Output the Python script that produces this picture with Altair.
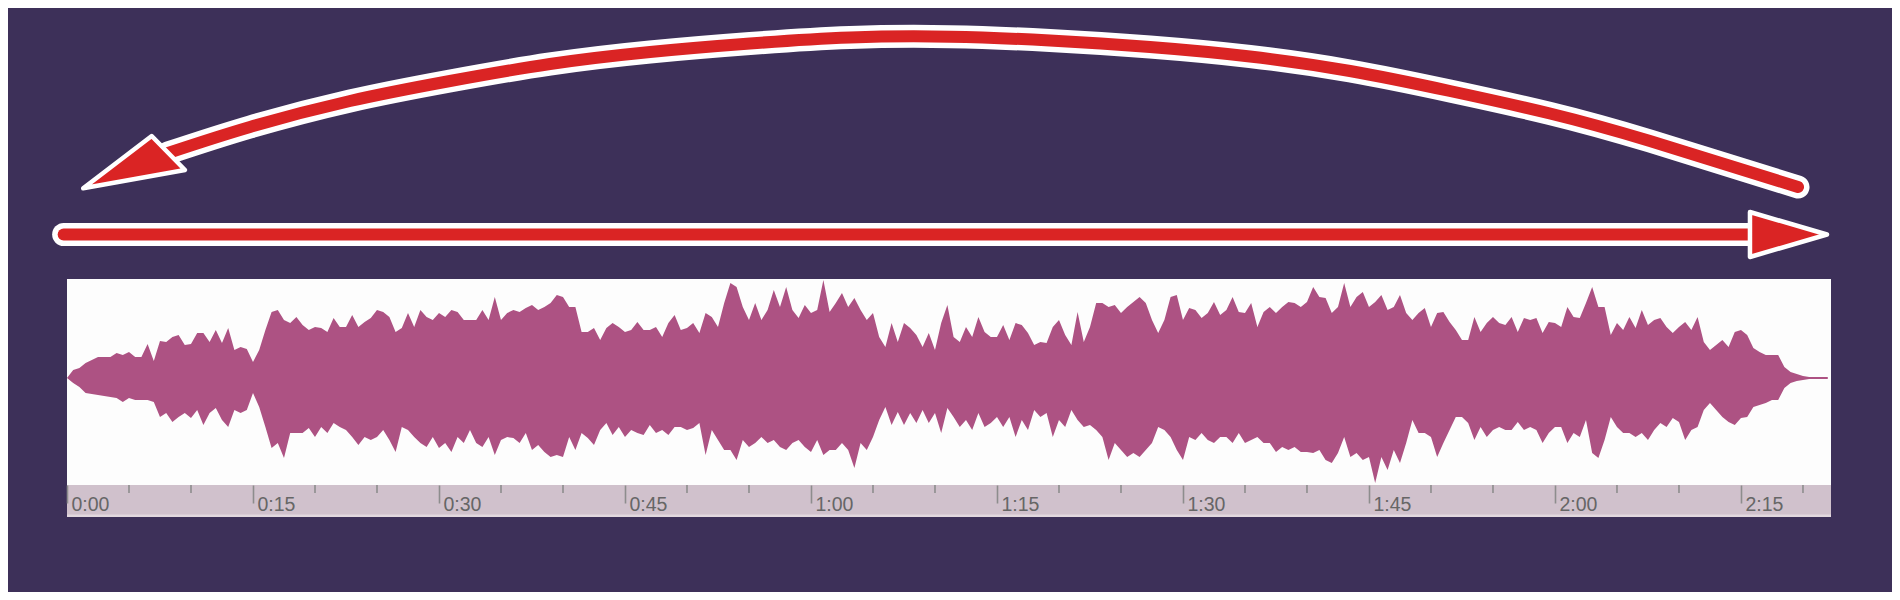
import altair as alt
import pandas as pd

# ---------------- data ----------------
# waveform envelope, sampled every 0.5 s (amplitude in % of full scale)
time_s = [i * 0.5 for i in range(285)]

upper = [
    0, 8, 10, 15, 18, 21, 21, 21, 25, 23, 26, 21, 21, 34, 17, 37, 36, 41, 43, 33,
    34, 45, 45, 36, 48, 35, 50, 28, 31, 29, 16, 28, 48, 66, 68, 58, 55, 61, 53, 48,
    51, 50, 46, 60, 51, 51, 63, 51, 56, 60, 68, 66, 61, 46, 50, 65, 51, 68, 61, 58,
    65, 61, 68, 66, 58, 58, 58, 68, 58, 81, 58, 65, 68, 66, 70, 73, 68, 71, 75, 83,
    81, 71, 71, 46, 46, 50, 38, 50, 55, 51, 46, 48, 56, 48, 48, 51, 41, 55, 63, 48,
    50, 55, 45, 65, 61, 51, 75, 95, 91, 71, 58, 75, 58, 68, 88, 71, 91, 68, 60, 73,
    65, 68, 98, 66, 75, 85, 71, 80, 68, 58, 65, 41, 31, 55, 36, 55, 50, 43, 31, 45,
    28, 55, 73, 41, 36, 51, 41, 61, 46, 41, 41, 53, 38, 55, 53, 45, 33, 36, 35, 51,
    58, 43, 33, 66, 36, 51, 75, 75, 71, 73, 65, 71, 76, 81, 75, 58, 45, 58, 81, 83,
    58, 70, 68, 60, 65, 76, 63, 68, 81, 66, 65, 75, 51, 66, 71, 65, 71, 76, 75, 71,
    76, 91, 81, 80, 65, 71, 95, 71, 81, 86, 71, 76, 83, 68, 71, 83, 65, 58, 65, 70,
    51, 65, 66, 56, 48, 38, 38, 61, 46, 55, 61, 55, 53, 61, 46, 60, 58, 60, 45, 56,
    55, 51, 71, 61, 60, 75, 91, 71, 71, 43, 55, 48, 61, 50, 68, 53, 58, 60, 51, 45,
    51, 56, 48, 61, 36, 28, 33, 38, 31, 46, 48, 43, 30, 26, 23, 23, 23, 11, 6, 4,
    2, 1, 1, 1, 1,
]

lower = [
    0, -5, -9, -15, -16, -17, -18, -19, -20, -24, -20, -22, -22, -22, -24, -39, -35, -44, -39, -35,
    -40, -32, -47, -35, -30, -42, -49, -32, -35, -32, -15, -29, -49, -70, -65, -80, -55, -55, -55, -50,
    -59, -49, -55, -45, -49, -52, -59, -67, -59, -62, -59, -52, -62, -74, -49, -52, -59, -65, -69, -59,
    -70, -65, -74, -59, -65, -52, -65, -69, -59, -77, -62, -59, -60, -65, -55, -72, -67, -74, -79, -77,
    -79, -59, -72, -55, -60, -67, -52, -45, -57, -49, -59, -52, -55, -57, -47, -55, -52, -57, -49, -49,
    -52, -50, -45, -77, -52, -62, -72, -72, -82, -62, -69, -65, -59, -65, -62, -69, -72, -65, -62, -69,
    -74, -62, -77, -72, -72, -65, -72, -90, -65, -72, -59, -42, -29, -47, -34, -47, -35, -45, -32, -45,
    -35, -55, -30, -39, -49, -42, -52, -35, -49, -45, -39, -49, -39, -59, -42, -52, -32, -39, -35, -59,
    -42, -49, -32, -42, -49, -47, -52, -59, -82, -65, -72, -79, -75, -79, -72, -65, -49, -52, -59, -72,
    -82, -59, -62, -55, -62, -65, -59, -59, -65, -55, -65, -62, -59, -65, -65, -74, -69, -72, -69, -74,
    -74, -75, -72, -82, -85, -75, -59, -79, -75, -82, -79, -105, -79, -92, -72, -85, -65, -42, -55, -55,
    -59, -79, -65, -52, -39, -39, -45, -62, -49, -59, -52, -49, -52, -52, -44, -52, -49, -52, -65, -55,
    -49, -49, -65, -55, -59, -42, -75, -80, -62, -39, -49, -55, -55, -59, -55, -62, -52, -45, -49, -40,
    -44, -62, -52, -49, -32, -25, -32, -39, -44, -47, -40, -39, -29, -27, -25, -22, -22, -10, -5, -3,
    -2, -1, -1, -1, -1,
]

# time axis
tick_values = [0, 15, 30, 45, 60, 75, 90, 105, 120, 135]
tick_labels = ["0:00", "0:15", "0:30", "0:45", "1:00", "1:15", "1:30", "1:45", "2:00", "2:15"]
minor_ticks = [5, 10, 20, 25, 35, 40, 50, 55, 65, 70, 80, 85, 95, 100, 110, 115, 125, 130, 140]

# arrows (annotation paths, in the same time / amplitude units)
straight_t = [-0.27, 136.5]
straight_u = [143.5, 143.5]
arc_t = [8.15, 14.76, 22.82, 30.89, 38.95, 47.02, 55.08, 63.15, 71.21, 79.27,
         87.34, 95.40, 103.47, 111.53, 119.60, 127.66, 139.6]
arc_u = [225, 251, 277, 297, 314, 326, 334.5, 340.5, 341.3, 337.5,
         331, 321.5, 307, 287, 264.5, 237, 191]

# arrow heads: position, size, and outline (in the unit box of the symbol)
right_head_t, right_head_u, right_head_len = [138.83], [143.5], [77]
right_head_path = "M-1,-0.584L1,0L-1,0.584Z"
left_head_t, left_head_u, left_head_len = [5.42], [215.8], [102]
left_head_path = "M-1,0.512L0.343,-0.514L0.996,0.153Z"

# ---------------- styling ----------------
BG = "#3d3059"
WAVE = "#ad5283"
BAND = "#d0c1cc"
RED = "#da2424"
TICK = "#8d8d8d"
X_DOMAIN = [0, 142.26]
Y_DOMAIN = [-107, 99]

wave_df = pd.DataFrame({"t": time_s, "upper": upper, "lower": lower})
band_df = pd.DataFrame({"t": [X_DOMAIN[0]], "t2": [X_DOMAIN[1]], "u": [-107], "u2": [-138]})
strip_df = pd.DataFrame({"t": [X_DOMAIN[0]], "t2": [X_DOMAIN[1]], "u": [-136.5], "u2": [-139]})
minor_df = pd.DataFrame({"t": minor_ticks, "u": [-107] * len(minor_ticks), "u2": [-115] * len(minor_ticks)})

shaft_rows = []
for i, (tt, uu) in enumerate(zip(straight_t, straight_u)):
    shaft_rows.append({"arrow": "straight", "i": i, "t": tt, "u": uu})
for i, (tt, uu) in enumerate(zip(arc_t, arc_u)):
    shaft_rows.append({"arrow": "arc", "i": i, "t": tt, "u": uu})
shaft_df = pd.DataFrame(shaft_rows)

xs = alt.Scale(domain=X_DOMAIN, nice=False, zero=False)
ys = alt.Scale(domain=Y_DOMAIN, nice=False, zero=False)

label_expr = "{" + ", ".join(f"'{v}': '{l}'" for v, l in zip(tick_values, tick_labels)) + "}[datum.value]"

x_axis = alt.Axis(
    title=None, values=tick_values, labelExpr=label_expr, grid=False, domain=False,
    ticks=True, tickSize=18, tickColor=TICK, tickWidth=1.6,
    labelAlign="left", labelBaseline="alphabetic", labelPadding=7, labelOffset=4,
    labelFont="Liberation Sans", labelFontSize=19.5, labelColor="#666666",
    labelFlush=False, labelOverlap=False, zindex=2,
)

X = alt.X("t:Q", scale=xs, axis=x_axis)


def Y(field):
    return alt.Y(field, type="quantitative", scale=ys, axis=None)


band = alt.Chart(band_df).mark_rect(color=BAND).encode(x=X, x2="t2", y=Y("u"), y2="u2")
strip = alt.Chart(strip_df).mark_rect(color="#e2d8de").encode(x=X, x2="t2", y=Y("u"), y2="u2")
minor = alt.Chart(minor_df).mark_rule(color=TICK, strokeWidth=1.6).encode(x=X, y=Y("u"), y2="u2")

wave = alt.Chart(wave_df).mark_area(color=WAVE, interpolate="linear").encode(
    x=X, y=Y("upper"), y2="lower")

shaft_white = alt.Chart(shaft_df).mark_line(
    color="white", strokeWidth=23, strokeCap="round", interpolate="natural"
).encode(x=X, y=Y("u"), detail="arrow:N", order="i:Q")
shaft_red = alt.Chart(shaft_df).mark_line(
    color=RED, strokeWidth=12, strokeCap="round", interpolate="natural"
).encode(x=X, y=Y("u"), detail="arrow:N", order="i:Q")


def head_layer(ts, us, lens, path):
    df = pd.DataFrame({"t": ts, "u": us, "sz": [L * L for L in lens]})
    return alt.Chart(df).mark_point(
        shape=path, filled=True, fill=RED, stroke="white",
        strokeWidth=4.5, strokeJoin="round", opacity=1, fillOpacity=1, strokeOpacity=1,
    ).encode(
        x=X, y=Y("u"),
        size=alt.Size("sz:Q", scale=None, legend=None),
    )


right_head = head_layer(right_head_t, right_head_u, right_head_len, right_head_path)
left_head = head_layer(left_head_t, left_head_u, left_head_len, left_head_path)

chart = alt.layer(band, strip, minor, wave, shaft_white, shaft_red, right_head, left_head).properties(
    width=1764, height=206,
    autosize=alt.AutoSizeParams(type="none"),
    padding={"left": 59, "top": 271, "right": 61, "bottom": 107},
    background=BG,
).configure_view(stroke=None, fill="#fdfdfd")

chart.save("out.html", embed_options={"renderer": "svg", "actions": False})
